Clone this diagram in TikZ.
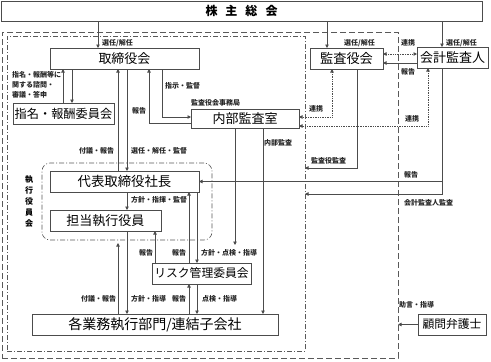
\documentclass[tikz,border=0pt]{standalone}
\usepackage{fontspec}
\setmainfont{Noto Sans CJK JP}
\usetikzlibrary{arrows.meta}
\begin{document}
\begin{tikzpicture}[x=1pt,y=-1pt,
  box/.style={draw=black!70,line width=0.8pt,inner sep=0pt,outer sep=0pt,fill=white},
  lbl/.style={font=\bfseries\fontsize{7}{8}\selectfont,inner sep=0pt,anchor=west,text=black!85},
  arr/.style={draw=black!70,line width=0.7pt,-{Triangle[length=3.5pt,width=3.5pt]}},
  darr/.style={draw=black!70,line width=0.7pt,densely dotted,{Triangle[length=3.5pt,width=3.5pt]}-{Triangle[length=3.5pt,width=3.5pt]}},
  ddash/.style={draw=black!65,line width=0.6pt,dash pattern=on 5pt off 2pt on 1pt off 2pt}]
\useasboundingbox (0,0) rectangle (491,362);
% boundaries
\node[draw=black!65,line width=0.6pt,dash pattern=on 6pt off 3pt,minimum width=396pt,minimum height=326pt,anchor=north west,inner sep=0pt,outer sep=0pt] (outer) at (2,32) {};
\node[ddash,minimum width=298pt,minimum height=315pt,anchor=north west,inner sep=0pt,outer sep=0pt] (inner) at (7,36) {};
\node[ddash,rounded corners=8pt,minimum width=170pt,minimum height=77pt,anchor=north west,inner sep=0pt,outer sep=0pt] (exec) at (42,163) {};
% boxes
\node[box,minimum width=481pt,minimum height=20pt,font=\bfseries\fontsize{12}{12}\selectfont] (sh) at (241.5,11) {株\hspace{8pt}主\hspace{8pt}総\hspace{8pt}会};
\node[box,minimum width=149pt,minimum height=21pt,font=\fontsize{13}{13}\selectfont] (tori) at (124.5,58.5) {取締役会};
\node[box,minimum width=101pt,minimum height=21pt,font=\fontsize{12.2}{12.2}\selectfont] (shimei) at (63.5,113.5) {指名・報酬委員会};
\node[box,minimum width=108pt,minimum height=19pt,font=\fontsize{13}{13}\selectfont] (naibu) at (245,118.5) {内部監査室};
\node[box,minimum width=149pt,minimum height=21pt,font=\fontsize{13.4}{13.4}\selectfont] (daihyo) at (124.5,181.5) {代表取締役社長};
\node[box,minimum width=111pt,minimum height=21pt,font=\fontsize{13}{13}\selectfont] (tanto) at (105.5,220.5) {担当執行役員};
\node[box,minimum width=99pt,minimum height=21pt,font=\fontsize{11.8}{11.8}\selectfont] (risk) at (201.5,273.5) {リスク管理委員会};
\node[box,minimum width=246pt,minimum height=21pt,font=\fontsize{14}{14}\selectfont] (gyomu) at (155,324.5) {各業務執行部門/連結子会社};
\node[box,minimum width=73pt,minimum height=21pt,font=\fontsize{13.2}{13.2}\selectfont] (kansa) at (346.5,58.5) {監査役会};
\node[box,minimum width=71pt,minimum height=21pt,font=\fontsize{13}{13}\selectfont] (kaikei) at (452.5,57.5) {会計監査人};
\node[box,minimum width=68pt,minimum height=21pt,font=\fontsize{11.8}{11.8}\selectfont] (komon) at (452,324.5) {顧問弁護士};
% column / row coordinates
\foreach \c in {63,72,98,118,127,149,155,162,189,197,235,263,327,332,357,428,442}{\coordinate (c\c) at (\c,0);}
\foreach \r in {54,63,117,123,126,168,194,243,245}{\coordinate (r\r) at (0,\r);}
% connectors
\draw[arr] (sh.south -| c98) -- (tori.north -| c98);
\draw[arr] (sh.south -| c327) -- (kansa.north -| c327);
\draw[arr] (sh.south -| c442) -- (kaikei.north -| c442);
\draw[darr] (kansa.east |- r54) -- (kaikei.west |- r54);
\draw[arr] (kaikei.west |- r63) -- (kansa.east |- r63);
\draw[arr] (shimei.north -| c63) -- (tori.south -| c63);
\draw[arr] (tori.south -| c72) -- (shimei.north -| c72);
\draw[arr] (daihyo.north -| c118) -- (tori.south -| c118);
\draw[arr] (tori.south -| c127) -- (daihyo.north -| c127);
\draw[arr] (tori.south -| c162) |- (naibu.west |- r117);
\draw[arr] (naibu.west |- r123) -| (tori.south -| c149);
\draw[darr] (kansa.south -| c332) |- (naibu.east |- r117);
\draw[darr] (kaikei.south -| c428) |- (naibu.east |- r126);
\draw[arr] (naibu.south -| c263) -- (gyomu.north -| c263);
\draw[arr] (naibu.south -| c235) -- (c235 |- r245);
\draw[arr] (kansa.south -| c357) |- (inner.east |- r168);
\draw[arr] (kaikei.south -| c442) |- (inner.east |- r194);
\draw[arr] (c442 |- daihyo.east) -- (daihyo.east);
\draw[arr] (daihyo.south -| c127) -- (tanto.north -| c127);
\draw[arr] (gyomu.north -| c118) -- (c118 |- r243);
\draw[arr] (tanto.south -| c127) -- (gyomu.north -| c127);
\draw[arr] (risk.north -| c155) -- (tanto.south -| c155);
\draw[arr] (risk.north -| c189) -- (daihyo.south -| c189);
\draw[arr] (daihyo.south -| c197) -- (risk.north -| c197);
\draw[arr] (gyomu.north -| c189) -- (risk.south -| c189);
\draw[arr] (risk.south -| c197) -- (gyomu.north -| c197);
\draw[arr] (komon.west) -- (komon.west -| outer.east);
% labels
\node[lbl] (l1) at (102,43) {選任/解任};
\node[lbl] (l2) at (344,43) {選任/解任};
\node[lbl] (l3) at (446,43) {選任/解任};
\node[lbl] (l4) at (401,43) {連携};
\node[lbl] (l5) at (401,72) {報告};
\node[lbl,anchor=north west,align=left,font=\bfseries\fontsize{7}{10}\selectfont] (l6) at (12,71) {指名・報酬等に\\関する諮問・\\審議・答申};
\node[lbl] (l7) at (165,85.5) {指示・監督};
\node[lbl] (l8) at (132,111) {報告};
\node[lbl] (l9) at (191,102.5) {監査役会事務局};
\node[lbl] (l10) at (309,109) {連携};
\node[lbl] (l11) at (405,119) {連携};
\node[lbl] (l12) at (264,143) {内部監査};
\node[lbl] (l13) at (311,161) {監査役監査};
\node[lbl] (l14) at (404,175) {報告};
\node[lbl] (l15) at (404,203) {会計監査人監査};
\node[lbl] (l16) at (79,151) {付議・報告};
\node[lbl] (l17) at (131,151) {選任・解任・監督};
\node[lbl] (l18) at (131,200) {方針・指揮・監督};
\node[font=\bfseries\fontsize{8}{11}\selectfont,align=center,inner sep=0pt] (l19) at (29,201) {執\\行\\役\\員\\会};
\node[lbl] (l20) at (139,253) {報告};
\node[lbl] (l21) at (172,253) {報告};
\node[lbl] (l22) at (201,253) {方針・点検・指導};
\node[lbl] (l23) at (81,299) {付議・報告};
\node[lbl] (l24) at (131,299) {方針・指導};
\node[lbl] (l25) at (172,299) {報告};
\node[lbl] (l26) at (202,299) {点検・指導};
\node[lbl] (l27) at (399,305) {助言・指導};
\end{tikzpicture}
\end{document}
